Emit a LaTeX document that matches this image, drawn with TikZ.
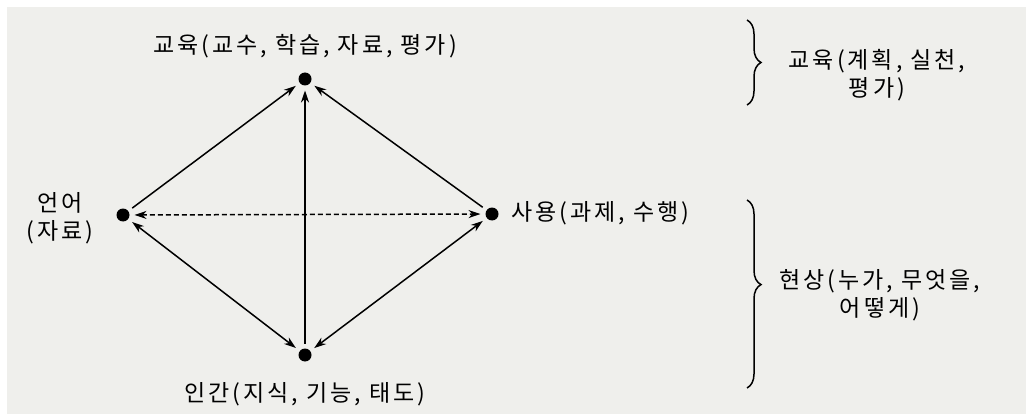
\documentclass[tikz,border=0pt]{standalone}
\usepackage{fontspec}
\setmainfont{Noto Sans CJK KR}[LetterSpace=13]
\usetikzlibrary{arrows.meta,decorations.pathreplacing}
\definecolor{bg}{RGB}{239,239,236}
\tikzset{
  dot/.style={circle,fill=black,minimum size=13pt,inner sep=0pt,outer sep=5pt},
  lbl/.style={font=\fontsize{23}{28}\selectfont,inner sep=0pt,align=center},
  conn/.style={line width=1.5pt,-{Stealth[length=12pt,width=8pt]}},
  biconn/.style={line width=1.5pt,{Stealth[length=12pt,width=8pt]}-{Stealth[length=12pt,width=8pt]}},
  bracestyle/.style={line width=1.5pt,decorate},
}
\begin{document}
\begin{tikzpicture}[x=1pt,y=-1pt]
\useasboundingbox (0,0) rectangle (1026,417);
\fill[bg] (7,7) rectangle (1026,414);
\node[dot] (T) at (305,79) {};
\node[dot] (L) at (123,215) {};
\node[dot] (R) at (492,214) {};
\node[dot] (B) at (305,355) {};
\node[lbl] (Tl) at (305,46) {교육(교수, 학습, 자료, 평가)};
\node[lbl] (Ll) at (60,218) {언어\\(자료)};
\node[lbl,anchor=west] (Rl) at (511,213) {사용(과제, 수행)};
\node[lbl] (Bl) at (305,394) {인간(지식, 기능, 태도)};
\draw[conn] (L) -- (T);
\draw[conn] (R) -- (T);
\draw[conn] (B) -- (T);
\draw[biconn,dash pattern=on 5pt off 3pt] (L) -- (R);
\draw[biconn] (L) -- (B);
\draw[biconn] (R) -- (B);
\coordinate (b1s) at (747,20);
\coordinate (b1e) at (747,105);
\draw[bracestyle,decoration={brace,amplitude=14pt}] (b1s) -- (b1e);
\node[lbl] (E1) at (877,75) {교육(계획, 실천,\\평가)};
\coordinate (b2s) at (747,200);
\coordinate (b2e) at (747,388);
\draw[bracestyle,decoration={brace,amplitude=14pt,aspect=0.45}] (b2s) -- (b2e);
\node[lbl] (E2) at (880,295) {현상(누가, 무엇을,\\어떻게)};
\end{tikzpicture}
\end{document}
